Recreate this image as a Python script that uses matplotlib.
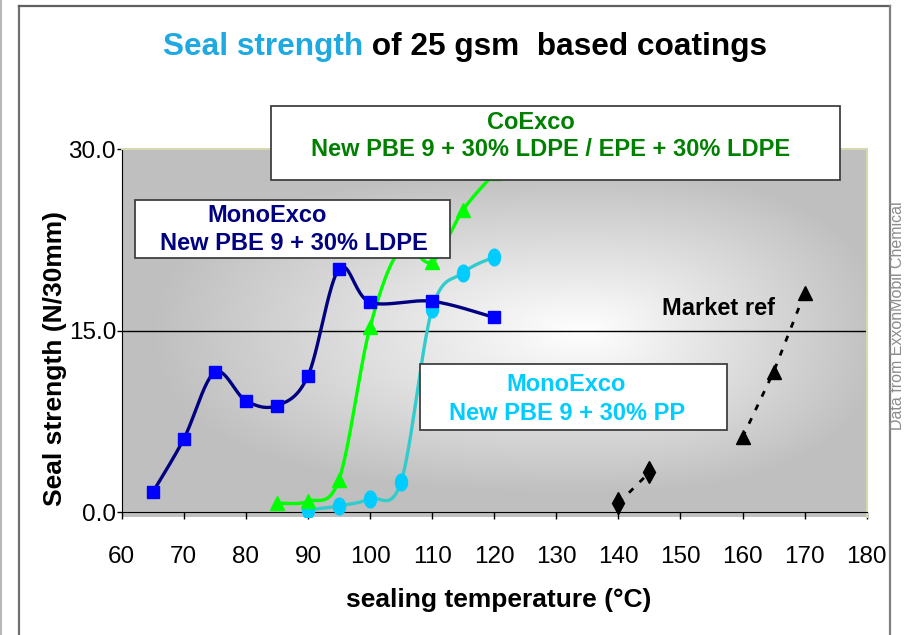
import numpy as np
import matplotlib
matplotlib.use("Agg")
import matplotlib.pyplot as plt
from matplotlib.patches import Rectangle
from matplotlib.lines import Line2D
from matplotlib.path import Path

plt.rcParams['font.family'] = ['Liberation Sans', 'DejaVu Sans']

# ---------------- data ----------------
mono_ldpe_x = [65, 70, 75, 80, 85, 90, 95, 100, 110, 120]
mono_ldpe_y = [1.65, 6.06, 11.57, 9.22, 8.81, 11.27, 20.1, 17.36, 17.44, 16.1]

coexco_x = [85, 90, 95, 100, 105, 110, 115, 120]
coexco_y = [0.75, 0.9, 2.7, 15.3, 21.8, 20.7, 25.0, 28.0]

mono_pp_x = [90, 95, 100, 105, 110, 115, 120]
mono_pp_y = [0.2, 0.52, 1.1, 2.53, 16.8, 19.8, 21.1]

market_a_x = [140, 145]
market_a_y = [0.74, 3.3]
market_b_x = [160, 165, 170]
market_b_y = [6.2, 11.6, 18.1]

market_ref_level = 15.0
x_ticks = [60, 70, 80, 90, 100, 110, 120, 130, 140, 150, 160, 170, 180]
y_ticks = [0.0, 15.0, 30.0]


def smooth(xs, ys, n=40):
    P = np.column_stack([xs, ys]).astype(float)
    out = [P[0]]
    t = np.linspace(0, 1, n)[1:, None]
    for i in range(len(P) - 1):
        p0 = P[i - 1] if i > 0 else P[i]
        p1 = P[i]
        p2 = P[i + 1]
        p3 = P[i + 2] if i + 2 < len(P) else P[i + 1]
        c1 = p1 + (p2 - p0) / 6.0
        c2 = p2 - (p3 - p1) / 6.0
        B = (1 - t) ** 3 * p1 + 3 * (1 - t) ** 2 * t * c1 + 3 * (1 - t) * t ** 2 * c2 + t ** 3 * p2
        out.extend(B)
    out = np.array(out)
    return out[:, 0], out[:, 1]


# ellipse marker (taller than wide)
th = np.linspace(0, 2 * np.pi, 40)
ell_marker = Path(np.column_stack([0.72 * np.cos(th), np.sin(th)]), closed=True)

W, H = 905, 635
fig = plt.figure(figsize=(W / 100, H / 100), dpi=100)

def fx(px):
    return px / W

def fy(py):
    return 1 - py / H

ax_left, ax_right = 121.7, 866.7
ax_top, ax_bot = 149.3, 516.5
ax = fig.add_axes([fx(ax_left), fy(ax_bot), (ax_right - ax_left) / W, (ax_bot - ax_top) / H])
ax.set_facecolor('#C0C0C0')

# gradient background
ny, nx = 300, 600
X, Y = np.meshgrid(np.linspace(0, 1, nx), np.linspace(0, 1, ny))
cx, cy = 0.62, 0.5
dx = np.where(X < cx, (cx - X) / 0.58, (X - cx) / 0.40)
dy = np.abs(Y - cy) / 0.44
r = (dx ** 2.5 + dy ** 2.5) ** (1 / 2.5)
tt = np.clip(r, 0, 1)
v = 1 - 0.25 * tt
img = np.dstack([v, v, v])
ax.imshow(img, extent=(0, 1, 0, 1), transform=ax.transAxes, aspect='auto',
          zorder=0, origin='lower', interpolation='bilinear')

ax.set_xlim(60, 180)
ax.set_ylim(-0.35, 30)

# market ref line
ax.axhline(market_ref_level, color='black', lw=1.0, zorder=1)

# series
sx, sy = smooth(mono_pp_x, mono_pp_y)
ax.plot(sx, sy, color='#33CCCC', lw=2.4, zorder=3, solid_capstyle='round')
ax.plot(mono_pp_x, mono_pp_y, ls='none', marker=ell_marker, ms=12, color='#00CCFF',
        mec='#00CCFF', zorder=3.1)

sx, sy = smooth(coexco_x, coexco_y)
ax.plot(sx, sy, color='#00FF00', lw=2.4, zorder=4, solid_capstyle='round')
ax.plot(coexco_x, coexco_y, ls='none', marker='^', ms=10, color='#00FF00',
        mec='#00FF00', zorder=4.1)

sx, sy = smooth(mono_ldpe_x, mono_ldpe_y)
ax.plot(sx, sy, color='#000080', lw=2.4, zorder=5, solid_capstyle='round')
ax.plot(mono_ldpe_x, mono_ldpe_y, ls='none', marker='s', ms=8.5, color='#0000FF',
        mec='#0000FF', zorder=5.1)

ax.plot(market_a_x, market_a_y, color='black', lw=2.0, ls=(0, (2.2, 3.2)),
        marker='d', ms=11, zorder=4)
ax.plot(market_b_x, market_b_y, color='black', lw=2.0, ls=(0, (2.2, 3.2)),
        marker='^', ms=10, zorder=4)

# text boxes
box_kw = dict(facecolor='white', edgecolor='#404040', lw=1.3, zorder=8, clip_on=False)
ax.add_patch(Rectangle((84.0, 27.5), 175.7 - 84.0, 33.6 - 27.5, **box_kw))
ax.add_patch(Rectangle((62.1, 21.05), 112.9 - 62.1, 25.8 - 21.05, **box_kw))
ax.add_patch(Rectangle((108.1, 6.8), 157.5 - 108.1, 12.26 - 6.8, **box_kw))

tk = dict(fontsize=17, fontweight='bold', ha='center', va='center', zorder=9, clip_on=False)
ax.text(125.9, 32.2, 'CoExco', color='#008000', **tk)
ax.text(129.1, 29.95, 'New PBE 9 + 30% LDPE / EPE + 30% LDPE', color='#008000', **tk)
ax.text(83.4, 24.5, 'MonoExco', color='#000080', **tk)
ax.text(87.8, 22.2, 'New PBE 9 + 30% LDPE', color='#000080', **tk)
ax.text(131.5, 10.58, 'MonoExco', color='#00CCFF', **tk)
ax.text(131.8, 8.2, 'New PBE 9 + 30% PP', color='#00CCFF', **tk)
ax.text(156.1, 16.86, 'Market ref', color='black', **tk)

# axes styling
for s in ['top', 'right']:
    ax.spines[s].set_color('#D8D8B0')
    ax.spines[s].set_linewidth(1.5)
ax.spines['left'].set_color('black')
ax.spines['left'].set_bounds(0, 30)
ax.spines['bottom'].set_position(('data', 0))
ax.spines['bottom'].set_color('black')
ax.set_xticks(x_ticks)
ax.set_xticklabels([str(t) for t in x_ticks])
ax.set_yticks(y_ticks)
ax.set_yticklabels(['%.1f' % t for t in y_ticks])
ax.tick_params(axis='x', direction='out', length=5, width=1, pad=19, labelsize=17.5)
ax.tick_params(axis='y', direction='out', length=3.6, width=1, pad=0.5, labelsize=17.5)

# axis titles
fig.text(fx(499), fy(600), 'sealing temperature (°C)', fontsize=19, fontweight='bold',
         ha='center', va='center')
fig.text(fx(55), fy(358), 'Seal strength (N/30mm)', fontsize=19, fontweight='bold',
         ha='center', va='center', rotation=90)

# title in two colours
t1 = fig.text(fx(162.7), fy(55), 'Seal strength', fontsize=22.8, fontweight='bold',
              color='#1FA9E1', ha='left', va='baseline')
ax.annotate(' of 25 gsm  based coatings', xy=(1, 0), xycoords=t1, fontsize=22.8,
            fontweight='bold', color='black', ha='left', va='bottom', annotation_clip=False)

# source note
fig.text(fx(897.8), fy(316), 'Data from ExxonMobil Chemical', fontsize=11.5, color='#8C8C8C',
         rotation=90, ha='center', va='center')

# frame lines
fig.add_artist(Line2D([fx(1), fx(1)], [0, 1], color='#B8B8B8', lw=1.5))
fig.add_artist(Line2D([fx(19), fx(19)], [0, fy(6)], color='#707070', lw=1.6))
fig.add_artist(Line2D([fx(19), fx(890)], [fy(6), fy(6)], color='#606060', lw=1.6))
fig.add_artist(Line2D([fx(890), fx(890)], [0, fy(6)], color='#808080', lw=1.6))

fig.savefig('out.png', dpi=100)
